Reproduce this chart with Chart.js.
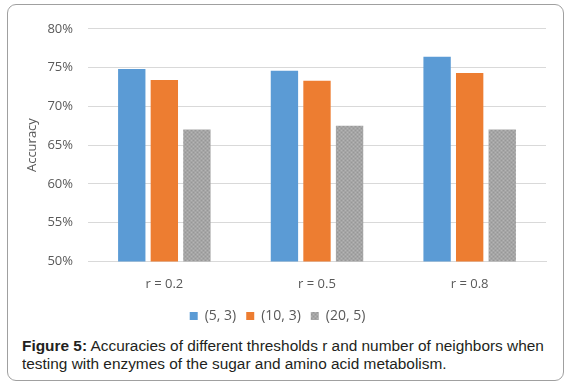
<!DOCTYPE html>
<html>
<head>
<meta charset="utf-8">
<script src="https://cdn.jsdelivr.net/npm/chart.js@4"></script>
<style>
  html, body { margin: 0; padding: 0; background: #fff; }
  #frame {
    position: absolute; left: 7px; top: 4px; width: 555px; height: 375px;
    border: 1px solid #a0a0a0; border-radius: 9px; box-sizing: content-box;
  }
  #wrap { position: absolute; left: 1px; top: 1px; width: 555px; height: 331px; }
  #caption {
    position: absolute; left: 14px; top: 332px; white-space: nowrap;
    transform: scaleX(1.1); transform-origin: 0 0;
    font-family: "Liberation Sans", Arial, sans-serif; font-size: 14px; line-height: 18px; color: #231f20;
  }
</style>
</head>
<body>
<div id="frame">
  <div id="wrap"><canvas id="chart"></canvas></div>
  <div id="caption"><b>Figure 5:</b> Accuracies of different thresholds r and number of neighbors when<br>testing with enzymes of the sugar and amino acid metabolism.</div>
</div>
<script>
const categories = ['r = 0.2', 'r = 0.5', 'r = 0.8'];
const seriesNames = ['(5, 3)', '(10, 3)', '(20, 5)'];
const acc53 = [74.8, 74.6, 76.4];
const acc103 = [73.4, 73.3, 74.3];
const acc205 = [67.0, 67.5, 67.0];
const yTicks = [50, 55, 60, 65, 70, 75, 80];

// grey series in the figure has a speckled fill
function speckle() {
    const c = document.createElement('canvas');
    c.width = 4; c.height = 4;
    const g = c.getContext('2d');
    g.fillStyle = '#a5a5a5';
    g.fillRect(0, 0, 4, 4);
    g.fillStyle = '#b4b4b4';
    g.fillRect(0, 0, 1, 1);
    g.fillRect(2, 2, 1, 1);
    g.fillStyle = '#979797';
    g.fillRect(2, 0, 1, 1);
    g.fillRect(0, 2, 1, 1);
    return g.createPattern(c, 'repeat');
}

const colors = ['#5b9bd5', '#ed7d31', speckle()];

const ctx = document.getElementById('chart').getContext('2d');
const tickFont = { family: '"Open Sans", "DejaVu Sans", sans-serif', size: 13 };

new Chart(ctx, {
    type: 'bar',
    data: {
        labels: categories,
        datasets: [acc53, acc103, acc205].map((vals, i) => ({
            label: seriesNames[i],
            data: vals,
            backgroundColor: colors[i],
            borderWidth: 0,
            barPercentage: 0.84,
            categoryPercentage: 0.64
        }))
    },
    options: {
        responsive: true,
        maintainAspectRatio: false,
        animation: false,
        layout: { padding: { top: 14, right: 18, left: 0, bottom: 4 } },
        plugins: {
            tooltip: { enabled: false },
            legend: {
                position: 'bottom',
                labels: {
                    boxWidth: 8, boxHeight: 8, padding: 10,
                    color: '#595959',
                    font: { family: tickFont.family, size: 14 }
                }
            }
        },
        scales: {
            x: {
                grid: { display: false },
                border: { color: '#d9d9d9' },
                ticks: { color: '#595959', font: tickFont, padding: 7 }
            },
            y: {
                min: 50, max: 80,
                afterFit: s => { s.width = 79; },
                afterBuildTicks: s => { s.ticks = yTicks.map(v => ({ value: v })); },
                grid: { color: '#d9d9d9', drawTicks: false },
                border: { display: false },
                ticks: { color: '#595959', font: tickFont, padding: 15, callback: v => v + '%' },
                title: { display: true, text: 'Accuracy', color: '#595959', font: { family: tickFont.family, size: 13 }, padding: { top: 15, bottom: 0 } }
            }
        }
    }
});
</script>
</body>
</html>
